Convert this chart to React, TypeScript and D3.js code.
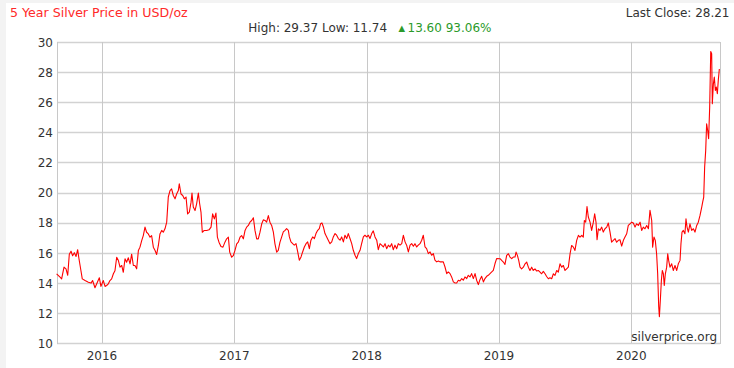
import React from 'react';
import * as d3 from 'd3';

const TITLE = '5 Year Silver Price in USD/oz';
const LAST_CLOSE = 28.21;
const HIGH = 29.37;
const LOW = 11.74;
const CHANGE = 13.6;
const CHANGE_PCT = 93.06;
const WATERMARK = 'silverprice.org';

const yTicks = [10, 12, 14, 16, 18, 20, 22, 24, 26, 28, 30];
const xTicks = [2016, 2017, 2018, 2019, 2020];
const xDomain: [number, number] = [2015.66, 2020.67];
const yDomain: [number, number] = [10, 30];

// [decimal year, price USD/oz]
const series2015to2017: [number, number][] = [
  [2015.657, 14.6], [2015.683, 14.37], [2015.695, 14.26], [2015.713, 15.04], [2015.728, 14.93], [2015.741, 14.5],
  [2015.753, 15.9], [2015.766, 16.1], [2015.778, 15.8], [2015.791, 16.0], [2015.804, 15.75], [2015.816, 16.2],
  [2015.826, 15.6], [2015.841, 14.8], [2015.851, 14.26], [2015.872, 14.15], [2015.897, 14.04], [2015.917, 13.98],
  [2015.929, 14.15], [2015.947, 13.67], [2015.965, 14.04], [2015.98, 14.33], [2015.992, 13.76], [2016.01, 14.15],
  [2016.023, 13.76], [2016.035, 13.82], [2016.048, 13.93], [2016.06, 14.15], [2016.073, 14.26], [2016.086, 14.6],
  [2016.098, 14.8], [2016.111, 15.7], [2016.123, 15.5], [2016.136, 15.04], [2016.149, 15.15], [2016.161, 14.7],
  [2016.174, 15.6], [2016.186, 15.37], [2016.199, 15.66], [2016.212, 15.26], [2016.224, 15.9], [2016.237, 15.15],
  [2016.249, 15.15], [2016.262, 14.93], [2016.275, 16.15], [2016.287, 16.37], [2016.3, 16.8], [2016.312, 17.14],
  [2016.325, 17.7], [2016.337, 17.36], [2016.35, 17.25], [2016.363, 17.03], [2016.375, 17.14], [2016.388, 16.37],
  [2016.401, 16.15], [2016.413, 15.88], [2016.426, 16.48], [2016.438, 17.25], [2016.451, 17.48], [2016.463, 17.36],
  [2016.476, 17.59], [2016.489, 18.03], [2016.501, 19.7], [2016.514, 20.13], [2016.526, 20.24], [2016.539, 19.8],
  [2016.552, 19.58], [2016.564, 19.9], [2016.577, 20.13], [2016.584, 20.58], [2016.597, 19.9], [2016.61, 19.8],
  [2016.622, 19.58], [2016.635, 19.7], [2016.647, 18.58], [2016.66, 18.7], [2016.673, 19.36], [2016.68, 19.96],
  [2016.69, 19.03], [2016.703, 18.8], [2016.715, 19.25], [2016.728, 19.96], [2016.738, 19.25], [2016.748, 18.7],
  [2016.758, 17.36], [2016.773, 17.48], [2016.791, 17.48], [2016.809, 17.52], [2016.824, 17.7], [2016.836, 18.58],
  [2016.849, 18.25], [2016.861, 18.63], [2016.872, 17.03], [2016.884, 16.7], [2016.899, 16.41], [2016.914, 16.37],
  [2016.929, 16.7], [2016.942, 16.92], [2016.955, 17.03], [2016.965, 16.04], [2016.98, 15.7], [2016.992, 15.8],
  [2017.005, 16.15], [2017.018, 16.59], [2017.03, 16.7], [2017.043, 17.03], [2017.055, 17.14], [2017.068, 16.92],
  [2017.081, 17.48], [2017.093, 17.7], [2017.106, 17.81], [2017.118, 18.03], [2017.131, 18.14], [2017.144, 18.32],
  [2017.156, 17.48], [2017.169, 16.92], [2017.181, 16.92], [2017.194, 17.36], [2017.207, 17.92], [2017.219, 18.18],
  [2017.232, 18.14], [2017.244, 18.03], [2017.257, 18.47], [2017.269, 18.03], [2017.282, 17.81], [2017.295, 17.36],
  [2017.307, 16.59], [2017.32, 16.04], [2017.332, 16.15], [2017.345, 16.7],
];

const series2017to2019: [number, number][] = [
  [2017.358, 17.05], [2017.37, 17.38], [2017.383, 17.49], [2017.395, 17.6], [2017.408, 17.49], [2017.416, 17.05],
  [2017.428, 16.72], [2017.441, 16.6], [2017.453, 16.5], [2017.466, 16.6], [2017.479, 16.05], [2017.491, 15.5],
  [2017.504, 15.72], [2017.516, 16.05], [2017.529, 16.38], [2017.542, 16.6], [2017.554, 16.72], [2017.567, 16.27],
  [2017.579, 16.83], [2017.592, 17.05], [2017.605, 16.94], [2017.617, 17.27], [2017.63, 17.49], [2017.642, 17.6],
  [2017.652, 17.93], [2017.662, 17.98], [2017.673, 17.71], [2017.685, 17.27], [2017.698, 17.05], [2017.71, 16.83],
  [2017.723, 16.6], [2017.736, 16.72], [2017.748, 17.05], [2017.761, 17.27], [2017.773, 17.16], [2017.786, 16.94],
  [2017.799, 16.83], [2017.811, 17.05], [2017.824, 16.72], [2017.836, 17.16], [2017.849, 16.94], [2017.861, 17.27],
  [2017.874, 16.94], [2017.887, 16.6], [2017.899, 16.16], [2017.912, 15.83], [2017.924, 15.61], [2017.937, 15.94],
  [2017.95, 16.16], [2017.962, 16.6], [2017.975, 17.05], [2017.987, 17.16], [2018.0, 17.05], [2018.013, 17.16],
  [2018.025, 16.94], [2018.038, 17.27], [2018.05, 17.45], [2018.063, 17.05], [2018.076, 16.83], [2018.088, 16.2],
  [2018.101, 16.6], [2018.113, 16.5], [2018.126, 16.38], [2018.139, 16.6], [2018.151, 16.27], [2018.164, 16.5],
  [2018.176, 16.38], [2018.189, 16.6], [2018.201, 16.2], [2018.214, 16.5], [2018.227, 16.27], [2018.239, 16.6],
  [2018.252, 16.5], [2018.265, 16.6], [2018.277, 17.16], [2018.29, 16.72], [2018.302, 16.5], [2018.315, 16.05],
  [2018.328, 16.5], [2018.34, 16.6], [2018.353, 16.43], [2018.365, 16.6], [2018.378, 16.38], [2018.39, 16.5],
  [2018.403, 16.6], [2018.416, 16.83], [2018.428, 17.16], [2018.441, 16.38], [2018.453, 16.27], [2018.466, 15.94],
  [2018.479, 16.05], [2018.491, 15.83], [2018.504, 15.94], [2018.516, 15.5], [2018.529, 15.39], [2018.542, 15.45],
  [2018.554, 15.39], [2018.567, 15.39], [2018.579, 15.39], [2018.592, 15.05], [2018.605, 14.61], [2018.617, 14.72],
  [2018.63, 14.61], [2018.642, 14.39], [2018.655, 14.06], [2018.668, 13.99], [2018.68, 13.99], [2018.693, 14.17],
  [2018.705, 14.12], [2018.718, 14.28], [2018.73, 14.17], [2018.743, 14.39], [2018.756, 14.28], [2018.768, 14.5],
  [2018.781, 14.39], [2018.793, 14.61], [2018.806, 14.28], [2018.819, 14.61], [2018.831, 14.17], [2018.844, 13.88],
  [2018.856, 14.21], [2018.869, 14.43], [2018.882, 14.06], [2018.894, 14.28], [2018.907, 14.43], [2018.919, 14.5],
  [2018.932, 14.61], [2018.945, 14.72], [2018.957, 14.83], [2018.97, 15.28], [2018.982, 15.61],
];

const series2019to2020: [number, number][] = [
  [2019.008, 15.6], [2019.02, 15.49], [2019.033, 15.38], [2019.045, 15.22], [2019.058, 15.82], [2019.071, 15.93],
  [2019.083, 15.71], [2019.096, 15.6], [2019.108, 15.71], [2019.121, 15.71], [2019.129, 16.04], [2019.139, 15.82],
  [2019.149, 15.49], [2019.159, 15.04], [2019.171, 14.93], [2019.184, 15.04], [2019.197, 15.26], [2019.209, 15.38],
  [2019.222, 15.04], [2019.234, 14.82], [2019.247, 15.04], [2019.259, 14.82], [2019.272, 14.93], [2019.285, 14.78],
  [2019.297, 14.82], [2019.31, 14.71], [2019.322, 14.6], [2019.335, 14.76], [2019.348, 14.6], [2019.36, 14.42],
  [2019.373, 14.27], [2019.385, 14.33], [2019.398, 14.27], [2019.411, 14.6], [2019.423, 14.49], [2019.436, 14.82],
  [2019.448, 14.71], [2019.461, 15.26], [2019.474, 15.04], [2019.486, 15.15], [2019.499, 14.82], [2019.511, 14.93],
  [2019.524, 15.04], [2019.537, 15.93], [2019.549, 16.48], [2019.562, 16.37], [2019.574, 16.15], [2019.587, 16.82],
  [2019.6, 17.15], [2019.612, 17.04], [2019.625, 17.15], [2019.637, 17.04], [2019.645, 18.14], [2019.655, 18.03],
  [2019.665, 19.07], [2019.675, 18.37], [2019.688, 18.03], [2019.7, 17.48], [2019.713, 18.03], [2019.723, 18.59],
  [2019.733, 18.03], [2019.741, 16.86], [2019.751, 17.59], [2019.763, 17.48], [2019.776, 17.7], [2019.788, 17.37],
  [2019.801, 17.59], [2019.814, 17.7], [2019.826, 17.97], [2019.839, 17.37], [2019.851, 16.7], [2019.864, 16.82],
  [2019.877, 16.93], [2019.889, 16.7], [2019.902, 16.82], [2019.914, 16.86], [2019.927, 16.44], [2019.94, 16.82],
  [2019.952, 17.04], [2019.965, 17.26], [2019.977, 17.81], [2019.99, 17.92], [2020.003, 18.03], [2020.015, 17.97],
  [2020.028, 17.7], [2020.04, 17.92], [2020.053, 17.81], [2020.066, 18.03], [2020.078, 17.48], [2020.091, 17.7],
  [2020.103, 17.59], [2020.116, 17.81], [2020.129, 17.59], [2020.141, 18.81], [2020.154, 18.14], [2020.161, 16.37],
  [2020.171, 17.04], [2020.181, 16.82], [2020.191, 15.93], [2020.199, 14.6], [2020.207, 12.39], [2020.212, 11.74],
  [2020.219, 12.83], [2020.227, 14.16], [2020.234, 14.82], [2020.242, 14.6], [2020.249, 13.82], [2020.257, 14.6],
  [2020.267, 15.04], [2020.275, 15.93], [2020.282, 15.49], [2020.292, 15.04], [2020.305, 15.26], [2020.317, 14.82],
  [2020.33, 15.15], [2020.343, 14.82], [2020.355, 15.26], [2020.368, 15.49], [2020.375, 16.59], [2020.383, 17.37],
  [2020.393, 17.48], [2020.405, 17.26], [2020.413, 18.25], [2020.421, 17.7], [2020.431, 17.37], [2020.443, 17.92],
  [2020.456, 17.48], [2020.469, 17.59], [2020.481, 17.37], [2020.494, 17.81], [2020.506, 18.03], [2020.519, 18.48],
  [2020.532, 19.03], [2020.539, 19.36], [2020.547, 19.69], [2020.554, 21.69], [2020.562, 22.8], [2020.569, 24.57],
  [2020.577, 24.12], [2020.584, 23.57], [2020.592, 25.67], [2020.6, 29.37], [2020.607, 29.22], [2020.612, 25.9],
  [2020.62, 27.22], [2020.627, 27.67], [2020.635, 26.78], [2020.642, 27.0], [2020.65, 26.56], [2020.657, 27.45],
  [2020.665, 28.21],
];

const W = 734;
const H = 368;
const M = { left: 57, right: 720, top: 42, bottom: 343 };
const FONT = '"DejaVu Sans", Verdana, sans-serif';

export default function App() {
  const data = [...series2015to2017, ...series2017to2019, ...series2019to2020];
  const x = d3.scaleLinear().domain(xDomain).range([M.left, M.right]);
  const y = d3.scaleLinear().domain(yDomain).range([M.bottom, M.top]);
  const line = d3
    .line<[number, number]>()
    .x((d) => x(d[0]))
    .y((d) => y(d[1]));

  const snap = (v: number) => Math.round(v) + 0.5;

  return (
    <svg
      width={W}
      height={H}
      style={{ position: 'absolute', left: 0, top: 0, display: 'block' }}
      fontFamily={FONT}
    >
      <rect x={0} y={0} width={W} height={H} fill="#f3f3f3" />
      <rect x={6} y={3} width={W - 6} height={H - 3} fill="#ffffff" />

      {/* title & stats */}
      <text x={10} y={16.7} fontSize={12.6} fill="#ff2a2a">
        {TITLE}
      </text>
      <text x={729.5} y={16.7} fontSize={12} fill="#333" textAnchor="end">
        {`Last Close: ${LAST_CLOSE.toFixed(2)}`}
      </text>
      <text x={248.3} y={31.6} fontSize={12} fill="#333">
        {`High: ${HIGH.toFixed(2)} Low: ${LOW.toFixed(2)}`}
      </text>
      <text x={398.5} y={30.6} fontSize={8.5} fill="#2a9a2a">
        ▲
      </text>
      <text x={407.5} y={31.6} fontSize={12} fill="#2a9a2a">
        {`${CHANGE.toFixed(2)} ${CHANGE_PCT.toFixed(2)}%`}
      </text>

      {/* horizontal grid */}
      {yTicks.map((t) => (
        <g key={`y${t}`}>
          <line
            x1={M.left}
            x2={M.right}
            y1={snap(y(t))}
            y2={snap(y(t))}
            stroke="#d2d2d2"
            strokeWidth={1.4}
          />
          <text x={53} y={y(t) + 4.8} fontSize={12} fill="#333" textAnchor="end">
            {t}
          </text>
        </g>
      ))}

      {/* vertical grid */}
      {xTicks.map((t) => (
        <g key={`x${t}`}>
          <line
            x1={snap(x(t))}
            x2={snap(x(t))}
            y1={M.top}
            y2={M.bottom}
            stroke="#c8c8c8"
            strokeWidth={1}
          />
          <text x={x(t)} y={360.4} fontSize={12} fill="#333" textAnchor="middle">
            {t}
          </text>
        </g>
      ))}

      {/* frame */}
      <line x1={snap(M.left)} x2={snap(M.left)} y1={M.top} y2={M.bottom + 1} stroke="#c8c8c8" />
      <line x1={snap(M.right)} x2={snap(M.right)} y1={M.top} y2={M.bottom + 1} stroke="#c8c8c8" />

      <path d={line(data) || ''} fill="none" stroke="#ff0000" strokeWidth={1.1} strokeLinejoin="round" />

      <text x={717} y={340.7} fontSize={12} fill="#333" textAnchor="end">
        {WATERMARK}
      </text>
    </svg>
  );
}
